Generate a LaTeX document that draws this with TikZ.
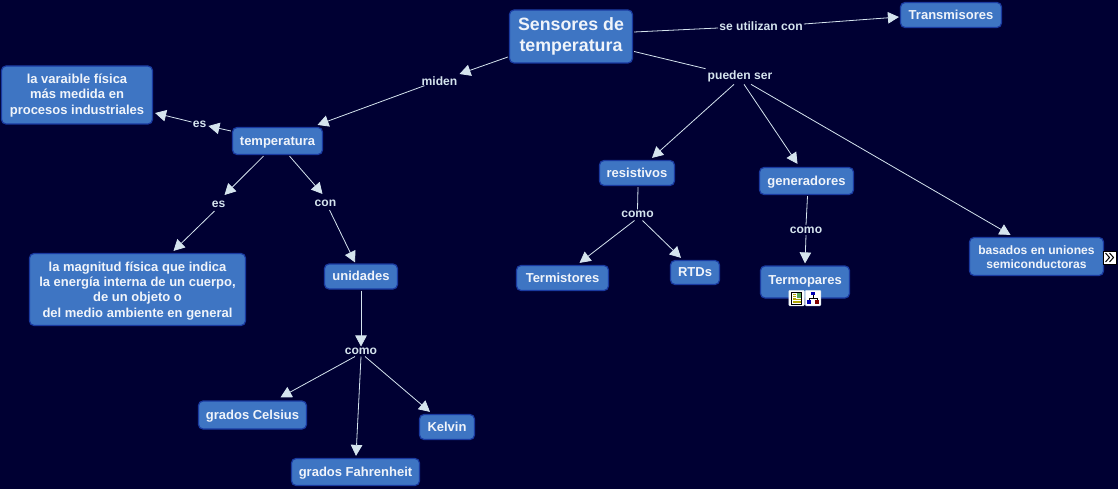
\documentclass[tikz,border=0pt]{standalone}
\usepackage{fontspec}
\setmainfont{Liberation Sans}
\usetikzlibrary{arrows.meta,calc}
\definecolor{bgc}{HTML}{000033}
\definecolor{boxc}{HTML}{3E75C3}
\definecolor{edgec}{HTML}{1A3AA0}
\definecolor{linec}{HTML}{D5E4EE}
\definecolor{txtc}{HTML}{F0F4FA}
\tikzset{
  concept/.style={draw=edgec,line width=1.2pt,fill=boxc,rounded corners=4.5pt,text=txtc,align=center,
    font=\bfseries\fontsize{13}{15.2}\selectfont,inner sep=0pt,anchor=center},
  oneline/.style={text height=11.3pt,text depth=2.5pt},
  linkword/.style={text=linec,font=\bfseries\fontsize{12.1}{13}\selectfont,inner sep=0pt,anchor=center},
  plain/.style={draw=linec,line width=0.8pt},
  arrowed/.style={plain,-{Triangle[length=11pt,width=11.5pt,fill=linec]}},
  icon/.style={draw=white,fill=white,rounded corners=1pt,line width=0.5pt,minimum size=15.5pt,inner sep=0pt}
}
\begin{document}
\begin{tikzpicture}[x=1pt,y=-1pt]
\fill[bgc] (0,0) rectangle (1118,489);
\useasboundingbox (0,0) rectangle (1118,489);
% concepts
\node[concept,minimum width=123pt,minimum height=53pt,font=\bfseries\fontsize{17.8}{20.8}\selectfont] (root) at (571,36.5) {Sensores de\\temperatura};
\node[concept,oneline,minimum width=101pt,minimum height=25pt] (trans) at (951,15) {Transmisores};
\node[concept,minimum width=151pt,minimum height=58pt] (vari) at (77,95) {\rule{0pt}{10.5pt}la varaible física\\más medida en\\procesos industriales};
\node[concept,oneline,minimum width=90pt,minimum height=27pt] (temp) at (277.5,141) {temperatura};
\node[concept,minimum width=216pt,minimum height=72pt] (magn) at (137.5,289.5) {\rule{0pt}{12.5pt}la magnitud física que indica\\la energía interna de un cuerpo,\\de un objeto o\\del medio ambiente en general};
\node[concept,oneline,minimum width=73pt,minimum height=25pt] (unid) at (361,276.5) {unidades};
\node[concept,oneline,minimum width=75pt,minimum height=25pt] (resi) at (637,173) {resistivos};
\node[concept,oneline,minimum width=94pt,minimum height=27pt] (gene) at (806.5,181) {generadores};
\node[concept,oneline,minimum width=92pt,minimum height=25pt] (termi) at (562.5,278) {Termistores};
\node[concept,oneline,minimum width=49pt,minimum height=24pt] (rtd) at (695,272.5) {RTDs};
\node[concept,minimum width=89pt,text height=18pt,text depth=14pt] (termo) at (805,282) {Termopares};
\node[concept,minimum width=134pt,minimum height=38pt,font=\bfseries\fontsize{12.1}{14}\selectfont] (basa) at (1036.5,256.5) {\rule{0pt}{10.5pt}basados en uniones\\ semiconductoras};
\node[concept,oneline,minimum width=108pt,minimum height=28pt] (cels) at (252.5,415) {grados Celsius};
\node[concept,oneline,minimum width=55pt,minimum height=25pt] (kelv) at (447,427) {Kelvin};
\node[concept,oneline,minimum width=128pt,minimum height=27pt] (fahr) at (355.5,472) {grados Fahrenheit};
% linking words
\node[linkword] (l1) at (761,26) {se utilizan con};
\node[linkword] (l2) at (740,76.2) {pueden ser};
\node[linkword] (l3) at (439.5,81.5) {miden};
\node[linkword] (l4) at (199.5,124.5) {es};
\node[linkword] (l5) at (218.5,204.2) {es};
\node[linkword] (l6) at (325.5,203.2) {con};
\node[linkword] (l7) at (361,351.5) {como};
\node[linkword] (l8) at (637.5,214.5) {como};
\node[linkword] (l9) at (806,230) {como};
% connectors
\draw[plain] ([shift={(1,-4.5)}]root.east) -- ([shift={(-1,2)}]l1.west);
\draw[arrowed] ([shift={(1,-2)}]l1.east) -- ([shift={(-1,2)}]trans.west);
\draw[plain] ([shift={(1,15)}]root.east) -- ([shift={(-2,-7.5)}]l2.west);
\draw[arrowed] ([shift={(-1,20.5)}]root.west) -- ([shift={(2,-7.5)}]l3.east);
\draw[arrowed] ([shift={(-15,-0.5)}]l3.south) -- ([shift={(40,-2)}]temp.north);
\draw[arrowed] ([shift={(-1,-10)}]temp.west) -- ([shift={(2,1.5)}]l4.east);
\draw[arrowed] ([shift={(-1,-2.5)}]l4.west) -- ([shift={(2,18)}]vari.east);
\draw[arrowed] ([shift={(-14,1)}]temp.south) -- ([shift={(6,-5.7)}]l5.north);
\draw[arrowed] ([shift={(-4,3.3)}]l5.south) -- ([shift={(36,-2)}]magn.north);
\draw[arrowed] ([shift={(12,1)}]temp.south) -- ([shift={(-3,-5.7)}]l6.north);
\draw[arrowed] ([shift={(4,3.3)}]l6.south) -- ([shift={(-6,-1)}]unid.north);
\draw[arrowed] ([shift={(0,1)}]unid.south) -- ([shift={(0,-1.5)}]l7.north);
\draw[arrowed] ([shift={(-6,1.5)}]l7.south) -- ([shift={(28,-3)}]cels.north);
\draw[arrowed] ([shift={(0,1.5)}]l7.south) -- ([shift={(0.5,-2)}]fahr.north);
\draw[arrowed] ([shift={(4,1.5)}]l7.south) -- ([shift={(-17,-2)}]kelv.north);
\draw[arrowed] ([shift={(-6,2.3)}]l2.south) -- ([shift={(15,-2)}]resi.north);
\draw[arrowed] ([shift={(4,2.3)}]l2.south) -- ([shift={(-9,-3)}]gene.north);
\draw[arrowed] ([shift={(11,2.3)}]l2.south) -- ([shift={(-26,-2)}]basa.north);
\draw[plain] ([shift={(1,1)}]resi.south) -- ([shift={(0,-1.5)}]l8.north);
\draw[arrowed] ([shift={(-3,2.5)}]l8.south) -- ([shift={(17,-2)}]termi.north);
\draw[arrowed] ([shift={(5,2.5)}]l8.south) -- ([shift={(-14,-2)}]rtd.north);
\draw[plain] ([shift={(1,1)}]gene.south) -- ([shift={(0,-1.5)}]l9.north);
\draw[arrowed] ([shift={(0,1.5)}]l9.south) -- ([shift={(0,-2)}]termo.north);
% icons
\node[icon,draw=linec] (ic1) at (796.5,298) {};
\draw[black,line width=0.6pt] ([shift={(-5,-6)}]ic1.center) rectangle ([shift={(5,6)}]ic1.center);
\fill[gray!70!green] ([shift={(0,-5)}]ic1.center) rectangle ([shift={(4.5,0)}]ic1.center);
\foreach \dy in {1.5,3,4.5}\draw[olive!70!yellow,line width=0.7pt] ([shift={(-3.5,\dy)}]ic1.center) -- ([shift={(4,\dy)}]ic1.center);
\foreach \dy in {-4,-2,0}\draw[olive!70!yellow,line width=0.7pt] ([shift={(-3.5,\dy)}]ic1.center) -- ([shift={(-0.7,\dy)}]ic1.center);
\node[icon,draw=linec] (ic2) at (813,298) {};
\fill[blue!70!black] ([shift={(-2,-6)}]ic2.center) rectangle ([shift={(2,-3)}]ic2.center);
\fill[blue!70!black] ([shift={(-6,2)}]ic2.center) rectangle ([shift={(-2,5.5)}]ic2.center);
\fill[red!50!black] ([shift={(2,2)}]ic2.center) rectangle ([shift={(6,5.5)}]ic2.center);
\draw[black,line width=0.5pt] ([shift={(0,-3)}]ic2.center) -- ([shift={(0,0)}]ic2.center) ([shift={(-4,2)}]ic2.center) -- ([shift={(-4,0)}]ic2.center) -- ([shift={(4,0)}]ic2.center) -- ([shift={(4,2)}]ic2.center);
\node[draw=black,fill=white,minimum size=13pt,inner sep=0pt,line width=0.6pt] (ic3) at (1110,257.5) {};
\draw[black,line width=1pt] ([shift={(-4.5,-4.5)}]ic3.center) -- ([shift={(-0.5,0)}]ic3.center) -- ([shift={(-4.5,4.5)}]ic3.center);
\draw[black,line width=1pt] ([shift={(-0.5,-4.5)}]ic3.center) -- ([shift={(3.5,0)}]ic3.center) -- ([shift={(-0.5,4.5)}]ic3.center);
\end{tikzpicture}
\end{document}
